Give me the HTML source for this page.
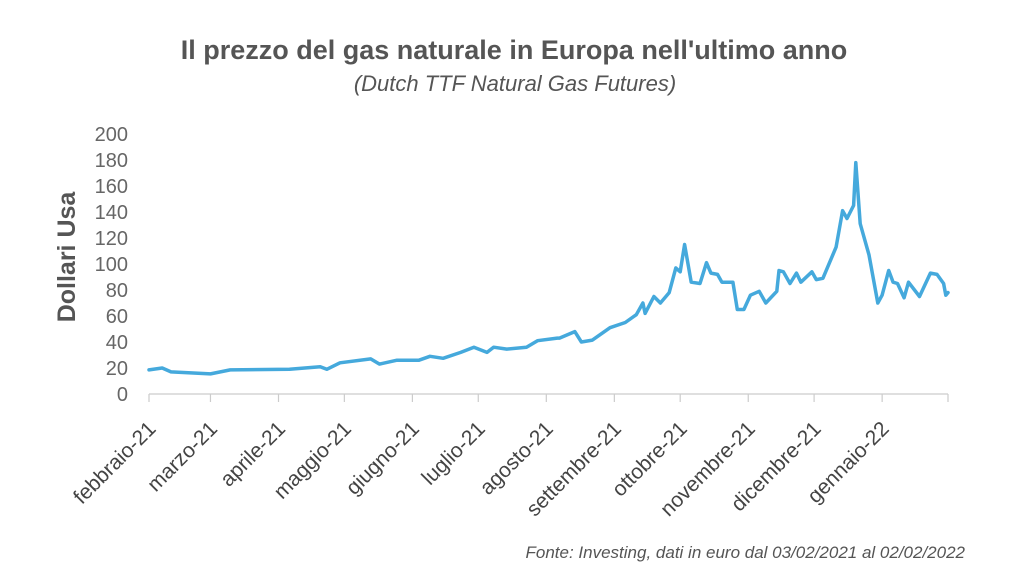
<!DOCTYPE html>
<html><head><meta charset="utf-8"><style>
html,body{margin:0;padding:0;background:#fff;width:1024px;height:576px;overflow:hidden}
svg{display:block;font-family:"Liberation Sans",Arial,sans-serif}
</style></head><body>
<svg id="chart" width="1024" height="576" viewBox="0 0 1024 576">
<text x="514" y="59" text-anchor="middle" font-size="27" font-weight="bold" fill="#555">Il prezzo del gas naturale in Europa nell'ultimo anno</text>
<text x="515" y="91" text-anchor="middle" font-size="22" font-style="italic" fill="#555">(Dutch TTF Natural Gas Futures)</text>
<text transform="translate(75,257) rotate(-90)" text-anchor="middle" font-size="25" font-weight="bold" fill="#555">Dollari Usa</text>
<text x="965" y="558" text-anchor="end" font-size="17" font-style="italic" fill="#555">Fonte: Investing, dati in euro dal 03/02/2021 al 02/02/2022</text>
<g id="yaxis"></g><g id="xaxis"></g><g id="series"></g>
</svg>
<script>
const yTicks=[0,20,40,60,80,100,120,140,160,180,200];
const monthLabels=["febbraio-21","marzo-21","aprile-21","maggio-21","giugno-21","luglio-21","agosto-21","settembre-21","ottobre-21","novembre-21","dicembre-21","gennaio-22"];
const monthStartDays=[0,28,59,89,120,150,181,212,242,273,303,334,364];
const days=[0,6,10,28,37,64,78,81,87,101,105,113,123,128,134,142,148,154,157,163,172,177,186,187,194,197,202,210,217,222,225,226,230,233,237,240,242,244,247,251,254,256,259,261,266,268,271,274,278,281,286,287,289,292,295,297,302,304,307,313,316,318,321,322,324,328,332,334,337,339,341,344,346,351,356,359,362,363,364];
const prices=[18.5,20,17,15.5,18.5,19,21,19,24,27,23,26,26,29,27.5,32,36,32,36,34.5,36,41,43,43,48,40,41.5,51,55,61,70,62,75,70,78,97,94,115,86,85,101,93,92,86,86,65,65,76,79,70,79,95,94,85,93,86,94,88,89,113,141,135,145,178,131,107,70,76,95,86,85,74,86,75,93,92,85,76,78];
const NS="http://www.w3.org/2000/svg";
const x0=149,x1=948,yb=394,yt=134,dMax=364,vMax=200;
const X=d=>x0+(x1-x0)*d/dMax;
const Y=v=>yb-(yb-yt)*v/vMax;
function mk(t,a,p){const e=document.createElementNS(NS,t);for(const k in a)e.setAttribute(k,a[k]);p.appendChild(e);return e;}
const ya=document.getElementById('yaxis');
yTicks.forEach(v=>{const t=mk('text',{x:128,y:Y(v)+7,'text-anchor':'end','font-size':20,fill:'#666'},ya);


t.textContent=v;});
const xa=document.getElementById('xaxis');
const axl=mk('line',{x1:x0,x2:x1,y1:yb,y2:yb,stroke:'#ccc','stroke-width':1.2},xa);


monthStartDays.forEach(d=>{const l=mk('line',{x1:X(d),x2:X(d),y1:yb,y2:yb+8,stroke:'#ccc','stroke-width':1.2},xa);

});
monthLabels.forEach((m,i)=>{const x=X(monthStartDays[i]);const t=mk('text',{x:x+8,y:430,'text-anchor':'end','font-size':21,fill:'#444',transform:`rotate(-45 ${x+8} 430)`},xa);


t.textContent=m;});
const s=document.getElementById('series');
const p=mk('polyline',{points:days.map((d,i)=>X(d).toFixed(1)+','+Y(prices[i]).toFixed(1)).join(' '),fill:'none',stroke:'#45a9dc','stroke-width':3.5,'stroke-linejoin':'round','stroke-linecap':'round'},s);


</script>
</body></html>
